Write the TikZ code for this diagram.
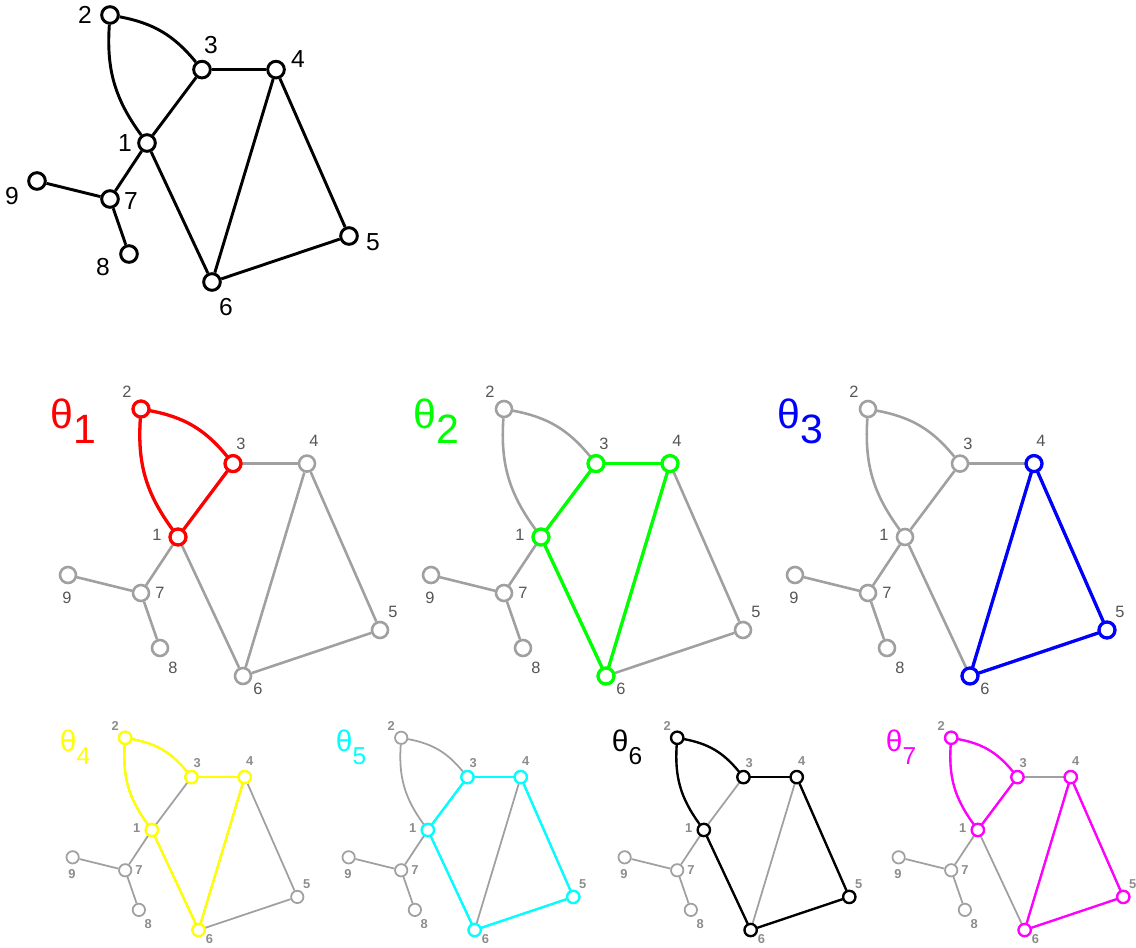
\documentclass[tikz,border=0pt]{standalone}
\usepackage{fontspec}
\setmainfont{Liberation Sans}
\usetikzlibrary{calc}

\definecolor{edgegray}{HTML}{A0A0A0}
\definecolor{lblgray}{HTML}{555555}
\definecolor{smlgray}{HTML}{8C8C8C}
\definecolor{cyc1}{HTML}{FF0000}
\definecolor{cyc2}{HTML}{00FF00}
\definecolor{cyc3}{HTML}{0000FF}
\definecolor{cyc4}{HTML}{FFFF00}
\definecolor{cyc5}{HTML}{00FFFF}
\definecolor{cyc6}{HTML}{000000}
\definecolor{cyc7}{HTML}{FF00FF}

% one copy of the graph with a highlighted cycle
% #1 name, #2 offset, #3 size style, #4 colour, #5 cycle vertices, #6 cycle edges, #7 theta label
\newcommand\graphcopy[7]{%
\begin{scope}[shift={#2},#3]
  \node[vtx] (#1-1) at (147,143) {};
  \node[vtx] (#1-2) at (110,15) {};
  \node[vtx] (#1-3) at (202,69.6) {};
  \node[vtx] (#1-4) at (276,69.6) {};
  \node[vtx] (#1-5) at (349,236) {};
  \node[vtx] (#1-6) at (212,282) {};
  \node[vtx] (#1-7) at (110,199) {};
  \node[vtx] (#1-8) at (129,254) {};
  \node[vtx] (#1-9) at (37,181) {};
  \node[lbl] (#1-l1) at (126,141) {1};
  \node[lbl] (#1-l2) at (96,-2) {2};
  \node[lbl] (#1-l3) at (210,50) {3};
  \node[lbl] (#1-l4) at (283,47) {4};
  \node[lbl] (#1-l5) at (362,218) {5};
  \node[lbl] (#1-l6) at (227,295) {6};
  \node[lbl] (#1-l7) at (129,199) {7};
  \node[lbl] (#1-l8) at (142,274) {8};
  \node[lbl] (#1-l9) at (36,204) {9};
  \draw[edge] (#1-2) to[bend right=20] (#1-1);
  \draw[edge] (#1-2) to[bend left=20] (#1-3);
  \draw[edge] (#1-1) -- (#1-3);
  \draw[edge] (#1-3) -- (#1-4);
  \draw[edge] (#1-4) -- (#1-6);
  \draw[edge] (#1-4) -- (#1-5);
  \draw[edge] (#1-5) -- (#1-6);
  \draw[edge] (#1-1) -- (#1-6);
  \draw[edge] (#1-1) -- (#1-7);
  \draw[edge] (#1-7) -- (#1-9);
  \draw[edge] (#1-7) -- (#1-8);
  % the cycle
  \foreach \a/\b/\c in {#6}
    \draw[edge,hl=#4] (#1-\a) to[bend left=\c] (#1-\b);
  \foreach \n in {#5}
    \node[vtx,hl=#4] (#1-h\n) at (#1-\n) {};
  \node[thlbl,text=#4] (#1-th) at (19,34) {#7};
\end{scope}}

\begin{document}
\begin{tikzpicture}[
  x=0.03cm, y=-0.03cm,
  vtx/.style={draw,circle,fill=white,inner sep=0pt},
  big/.style={
    vtx/.append style={minimum size=0.5cm,line width=2.5pt},
    edge/.style={line width=2.5pt}},
  medium/.style={
    vtx/.append style={draw=edgegray,minimum size=0.48cm,line width=2.2pt},
    edge/.style={draw=edgegray,line width=2.2pt},
    hl/.style={draw=##1,line width=2.8pt},
    lbl/.style={text=lblgray,font=\fontsize{14}{14}\selectfont},
    thlbl/.style={anchor=base west,font=\fontsize{35}{35}\selectfont,inner sep=0pt}},
  small/.style={
    scale=0.72,
    vtx/.append style={draw=edgegray,minimum size=0.37cm,line width=1.5pt},
    edge/.style={draw=edgegray,line width=1.5pt},
    hl/.style={draw=##1,line width=2pt},
    lbl/.style={text=smlgray,font=\fontsize{11}{11}\selectfont\bfseries},
    thlbl/.style={anchor=base west,font=\fontsize{25.5}{25.5}\selectfont,inner sep=0pt}},
  toplbl/.style={font=\fontsize{21}{21}\selectfont}
]
\useasboundingbox (0,0) rectangle (1136,948);

% the whole graph
\begin{scope}[big]
  \node[vtx] (g1) at (147,143) {};
  \node[vtx] (g2) at (110,15) {};
  \node[vtx] (g3) at (202,69.6) {};
  \node[vtx] (g4) at (276,69.6) {};
  \node[vtx] (g5) at (349,236) {};
  \node[vtx] (g6) at (212,282) {};
  \node[vtx] (g7) at (110,199) {};
  \node[vtx] (g8) at (129,254) {};
  \node[vtx] (g9) at (37,181) {};
  \node[toplbl] (t1) at (125,143) {1};
  \node[toplbl] (t2) at (85,15) {2};
  \node[toplbl] (t3) at (211,45) {3};
  \node[toplbl] (t4) at (298,59) {4};
  \node[toplbl] (t5) at (373,242) {5};
  \node[toplbl] (t6) at (226,307) {6};
  \node[toplbl] (t7) at (131,201) {7};
  \node[toplbl] (t8) at (103,267) {8};
  \node[toplbl] (t9) at (12,196) {9};
  \draw[edge] (g2) to[bend right=20] (g1);
  \draw[edge] (g2) to[bend left=20] (g3);
  \draw[edge] (g1) -- (g3);
  \draw[edge] (g3) -- (g4);
  \draw[edge] (g4) -- (g6);
  \draw[edge] (g4) -- (g5);
  \draw[edge] (g5) -- (g6);
  \draw[edge] (g1) -- (g6);
  \draw[edge] (g1) -- (g7);
  \draw[edge] (g7) -- (g9);
  \draw[edge] (g7) -- (g8);
\end{scope}

% cycles
\graphcopy{a}{(31,394)}{medium}{cyc1}{1,2,3}{2/1/-20,2/3/20,1/3/0}{θ\raisebox{-.38em}{1}}
\graphcopy{b}{(394,394)}{medium}{cyc2}{1,3,4,6}{1/3/0,3/4/0,4/6/0,1/6/0}{θ\raisebox{-.38em}{2}}
\graphcopy{c}{(758,394)}{medium}{cyc3}{4,5,6}{4/6/0,4/5/0,5/6/0}{θ\raisebox{-.38em}{3}}
\graphcopy{d}{(46,727)}{small}{cyc4}{1,2,3,4,6}{2/1/-20,2/3/20,3/4/0,4/6/0,1/6/0}{θ\raisebox{-.42em}{\scalebox{.82}{4}}}
\graphcopy{e}{(322,727)}{small}{cyc5}{1,3,4,5,6}{1/3/0,3/4/0,4/5/0,5/6/0,1/6/0}{θ\raisebox{-.42em}{\scalebox{.82}{5}}}
\graphcopy{f}{(598,727)}{small}{cyc6}{1,2,3,4,5,6}{2/1/-20,2/3/20,3/4/0,4/5/0,5/6/0,1/6/0}{θ\raisebox{-.42em}{\scalebox{.82}{6}}}
\graphcopy{h}{(872,727)}{small}{cyc7}{1,2,3,4,5,6}{2/1/-20,2/3/20,1/3/0,4/6/0,4/5/0,5/6/0}{θ\raisebox{-.42em}{\scalebox{.82}{7}}}
\end{tikzpicture}
\end{document}
